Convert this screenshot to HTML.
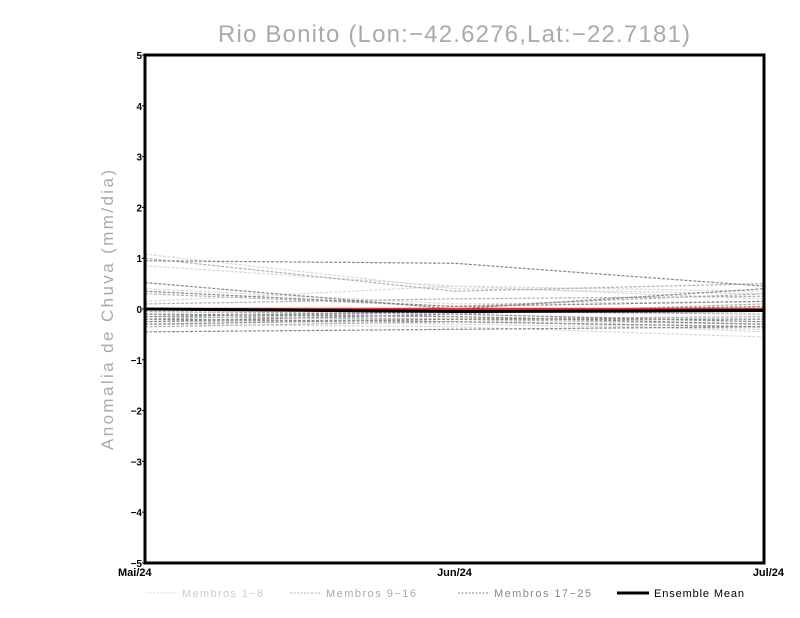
<!DOCTYPE html>
<html><head><meta charset="utf-8"><style>
html,body{margin:0;padding:0;background:#fff;width:800px;height:618px;overflow:hidden}
svg{display:block;font-family:"Liberation Sans",sans-serif}
</style></head><body>
<svg id="chart" width="800" height="618">
<text x="218" y="42" textLength="472" lengthAdjust="spacing" font-size="24" fill="#aaa" font-weight="300">Rio Bonito (Lon:−42.6276,Lat:−22.7181)</text>
<text transform="translate(113,450) rotate(-90)" textLength="280" lengthAdjust="spacing" font-size="17" fill="#aaa">Anomalia de Chuva (mm/dia)</text>
<g id="series"></g>
<g id="axes"></g>
<g font-size="11">
<line x1="146" y1="593" x2="178" y2="593" stroke="#d8d8d8" stroke-dasharray="2,1.5"/>
<text x="182" y="597" fill="#ccc" textLength="81">Membros 1−8</text>
<line x1="290" y1="593" x2="322" y2="593" stroke="#b0b0b0" stroke-dasharray="2,1.5"/>
<text x="326" y="597" fill="#aaa" textLength="90">Membros 9−16</text>
<line x1="458" y1="593" x2="490" y2="593" stroke="#888" stroke-dasharray="2,1.5"/>
<text x="494" y="597" fill="#888" textLength="97">Membros 17−25</text>
<line x1="617" y1="593" x2="649" y2="593" stroke="#000" stroke-width="3"/>
<text x="654" y="597" fill="#000" textLength="90">Ensemble Mean</text>
</g>
</svg>
<script>
const categories = ["Mai/24","Jun/24","Jul/24"];
const yTicks = [-5,-4,-3,-2,-1,0,1,2,3,4,5];
const members1to8 = [[1.08,0.4,0.3],[0.85,0.45,0.35],[0.15,0.45,0.2],[-0.1,-0.2,-0.45],[-0.3,-0.35,-0.55],[-0.2,-0.3,-0.4],[0.4,0.1,0.15],[-0.05,-0.15,-0.25]];
const members9to16 = [[1.0,0.35,0.5],[0.3,0.05,0.3],[-0.15,-0.2,-0.3],[-0.25,-0.2,-0.15],[-0.05,-0.1,0.1],[-0.35,-0.25,-0.35],[0.1,0.2,0.25],[-0.2,-0.05,-0.1]];
const members17to25 = [[0.95,0.9,0.45],[0.52,0.0,0.4],[0.35,0.05,0.15],[-0.1,-0.15,-0.3],[-0.2,-0.25,-0.35],[-0.3,-0.2,-0.2],[-0.15,-0.05,0.05],[-0.45,-0.4,-0.35],[-0.25,-0.1,-0.25]];
const ensembleMean = [0.0,-0.05,-0.03];
const redLine = [0.0,0.0,0.0];

const X0=145,X1=764,Y0=563,Y1=55;
function xs(i){return X0+(X1-X0)*i/(categories.length-1);}
function ys(v){return Y0-(v+5)/10*(Y0-Y1);}
const NS="http://www.w3.org/2000/svg";
const g=document.getElementById('series'), ax=document.getElementById('axes');
function pl(vals,stroke,w,dash){
  const p=document.createElementNS(NS,'polyline');
  p.setAttribute('points',vals.map((v,i)=>xs(i)+','+ys(v)).join(' '));
  p.setAttribute('fill','none');p.setAttribute('stroke',stroke);p.setAttribute('stroke-width',w);
  if(dash)p.setAttribute('stroke-dasharray',dash);
  g.appendChild(p);return p;
}
members1to8.forEach(m=>{const p=pl(m,'#d8d8d8',1.2,'3,1.5');

});
members9to16.forEach(m=>{const p=pl(m,'#b0b0b0',1.2,'3,1.5');

});
members17to25.forEach(m=>{const p=pl(m,'#888',1.2,'3,1.5');

});
const r=pl(redLine,'#e03030',2.5);


const em=pl(ensembleMean,'#000',3);


const fr=document.createElementNS(NS,'rect');
fr.setAttribute('x',X0);fr.setAttribute('y',Y1);fr.setAttribute('width',X1-X0);fr.setAttribute('height',Y0-Y1);
fr.setAttribute('fill','none');fr.setAttribute('stroke','#000');fr.setAttribute('stroke-width','3');


ax.appendChild(fr);
yTicks.forEach(t=>{
  const tx=document.createElementNS(NS,'text');
  tx.setAttribute('x',X0-3);tx.setAttribute('y',ys(t)+4);tx.setAttribute('text-anchor','end');
  tx.setAttribute('font-size','10');tx.setAttribute('font-weight','bold');
  tx.textContent=t<0?'−'+(-t):String(t);
  
  
  ax.appendChild(tx);
  const l=document.createElementNS(NS,'line');
  l.setAttribute('x1',X0-3);l.setAttribute('x2',X0);l.setAttribute('y1',ys(t));l.setAttribute('y2',ys(t));l.setAttribute('stroke','#000');
  ax.appendChild(l);
});
categories.forEach((c,i)=>{
  const tx=document.createElementNS(NS,'text');
  tx.setAttribute('x',i===0?xs(i)-27:(i===categories.length-1?xs(i)+20:xs(i)));
  tx.setAttribute('y',Y0+13);
  tx.setAttribute('text-anchor',i===0?'start':(i===categories.length-1?'end':'middle'));
  tx.setAttribute('font-size','11');tx.setAttribute('font-weight','bold');
  tx.textContent=c;
  
  
  ax.appendChild(tx);
});
</script>
</body></html>
